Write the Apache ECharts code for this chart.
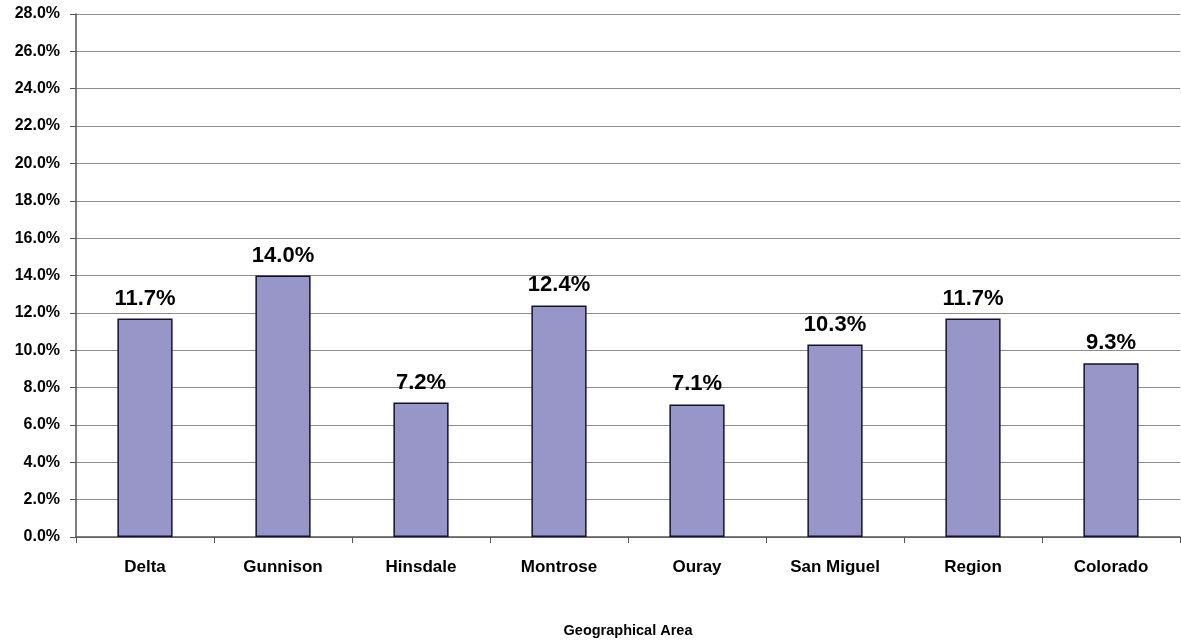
<!DOCTYPE html>
<html>
<head>
<meta charset="utf-8">
<script src="https://cdn.jsdelivr.net/npm/echarts@6/dist/echarts.min.js"></script>
<style>
  html, body { margin: 0; padding: 0; background: #ffffff; }
  #chart { width: 1181px; height: 640px; }
</style>
</head>
<body>
<div id="chart"></div>
<script>
// Share by geographical area (percent)
const categories = ['Delta', 'Gunnison', 'Hinsdale', 'Montrose', 'Ouray', 'San Miguel', 'Region', 'Colorado'];
const values = [11.7, 14.0, 7.2, 12.4, 7.1, 10.3, 11.7, 9.3];
const axisTitle = 'Geographical Area';

const chart = echarts.init(document.getElementById('chart'));
const font = 'Arial, "Liberation Sans", sans-serif';

chart.setOption({
  animation: false,
  backgroundColor: '#ffffff',
  grid: { left: 76, right: 1, top: 14, bottom: 103, containLabel: false, outerBoundsMode: 'none' },
  xAxis: {
    type: 'category',
    data: categories,
    name: axisTitle,
    nameLocation: 'middle',
    nameGap: 86,
    nameTextStyle: { fontFamily: font, fontWeight: 'bold', fontSize: 14.5, color: '#000' },
    axisLine: { lineStyle: { color: '#555555', width: 1.5 } },
    axisTick: { show: true, length: 6, lineStyle: { color: '#555555' } },
    axisLabel: { fontFamily: font, fontWeight: 'bold', fontSize: 17, color: '#000', margin: 22 },
    splitLine: { show: false }
  },
  yAxis: {
    type: 'value',
    min: 0,
    max: 28,
    interval: 2,
    axisLine: { show: true, lineStyle: { color: '#555555', width: 1.5 } },
    axisTick: { show: true, length: 6, lineStyle: { color: '#555555' } },
    axisLabel: {
      fontFamily: font, fontWeight: 'bold', fontSize: 16, color: '#000', margin: 16,
      formatter: v => v.toFixed(1) + '%'
    },
    splitLine: { lineStyle: { color: '#8c8c8c', width: 1 } }
  },
  series: [{
    type: 'bar',
    data: values,
    barWidth: '40%',
    itemStyle: { color: '#9896c8', borderColor: '#111133', borderWidth: 1.5 },
    label: {
      show: true,
      position: 'top',
      distance: 9,
      fontFamily: font,
      fontWeight: 'bold',
      fontSize: 22,
      color: '#000',
      formatter: p => p.value.toFixed(1) + '%'
    }
  }]
});
</script>
</body>
</html>
